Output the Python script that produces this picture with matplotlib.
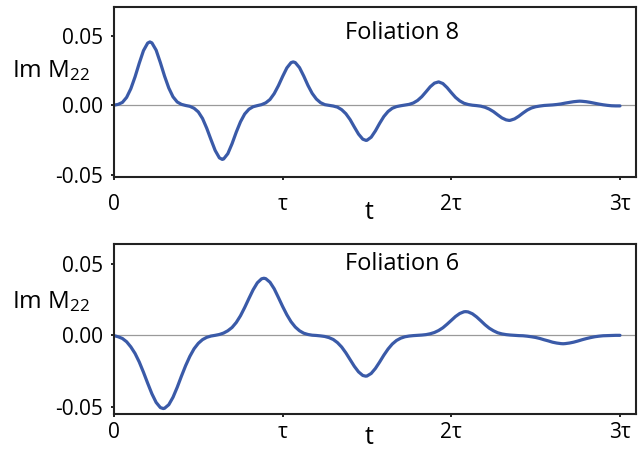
import matplotlib
matplotlib.use("Agg")
import matplotlib.pyplot as plt
import numpy as np

plt.rcParams['font.family'] = ['Open Sans', 'DejaVu Sans']
plt.rcParams['mathtext.fontset'] = 'custom'
plt.rcParams['mathtext.rm'] = 'Open Sans'
plt.rcParams['mathtext.default'] = 'regular'

# time in units of tau, step tau/40
t = np.arange(121) * 0.025

# Foliation 8
im_m22_fol8 = [
    0.0002, 0.0008, 0.0022, 0.0058, 0.0120, 0.0205, 0.0303, 0.0393, 0.0447, 0.0448,
    0.0396, 0.0307, 0.0210, 0.0125, 0.0062, 0.0025, 0.0008, 0.0000, -0.0006, -0.0020,
    -0.0046, -0.0093, -0.0163, -0.0244, -0.0322, -0.0375, -0.0383, -0.0345, -0.0274, -0.0191,
    -0.0117, -0.0061, -0.0027, -0.0009, -0.0001, 0.0006, 0.0019, 0.0043, 0.0085, 0.0142,
    0.0208, 0.0269, 0.0307, 0.0307, 0.0271, 0.0211, 0.0144, 0.0087, 0.0046, 0.0020,
    0.0006, 0.0001, -0.0004, -0.0012, -0.0030, -0.0059, -0.0101, -0.0154, -0.0205, -0.0241,
    -0.0249, -0.0227, -0.0182, -0.0128, -0.0079, -0.0043, -0.0020, -0.0008, -0.0002, 0.0003,
    0.0008, 0.0018, 0.0036, 0.0063, 0.0098, 0.0134, 0.0160, 0.0169, 0.0157, 0.0128,
    0.0092, 0.0058, 0.0033, 0.0016, 0.0007, 0.0002, -0.0001, -0.0005, -0.0013, -0.0026,
    -0.0044, -0.0067, -0.0089, -0.0103, -0.0106, -0.0096, -0.0077, -0.0054, -0.0033, -0.0018,
    -0.0009, -0.0004, 0.0000, 0.0002, 0.0004, 0.0007, 0.0011, 0.0017, 0.0022, 0.0027,
    0.0030, 0.0030, 0.0027, 0.0022, 0.0016, 0.0010, 0.0005, 0.0001, -0.0002, -0.0003,
    -0.0003,
]
peak_t_fol8 = [0.213, 0.642, 1.063, 1.494, 2.343, 2.762]
peak_v_fol8 = [0.0455, -0.0386, 0.0312, -0.0250, -0.0107, 0.0031]

# Foliation 6
im_m22_fol6 = [
    -0.0002, -0.0010, -0.0022, -0.0045, -0.0081, -0.0127, -0.0187, -0.0259, -0.0336, -0.0410,
    -0.0470, -0.0506, -0.0511, -0.0486, -0.0434, -0.0364, -0.0286, -0.0212, -0.0147, -0.0094,
    -0.0056, -0.0030, -0.0014, -0.0005, 0.0000, 0.0006, 0.0016, 0.0032, 0.0055, 0.0090,
    0.0137, 0.0195, 0.0258, 0.0319, 0.0368, 0.0396, 0.0397, 0.0372, 0.0326, 0.0265,
    0.0202, 0.0144, 0.0095, 0.0058, 0.0032, 0.0015, 0.0006, 0.0001, -0.0001, -0.0004,
    -0.0008, -0.0016, -0.0029, -0.0051, -0.0082, -0.0123, -0.0170, -0.0217, -0.0256, -0.0281,
    -0.0285, -0.0267, -0.0232, -0.0187, -0.0139, -0.0096, -0.0061, -0.0036, -0.0020, -0.0010,
    -0.0005, -0.0002, 0.0000, 0.0002, 0.0005, 0.0011, 0.0020, 0.0034, 0.0053, 0.0078,
    0.0105, 0.0132, 0.0153, 0.0165, 0.0164, 0.0151, 0.0129, 0.0102, 0.0074, 0.0050,
    0.0032, 0.0018, 0.0010, 0.0005, 0.0002, 0.0000, -0.0002, -0.0003, -0.0006, -0.0010,
    -0.0015, -0.0022, -0.0031, -0.0039, -0.0048, -0.0054, -0.0058, -0.0058, -0.0054, -0.0048,
    -0.0040, -0.0031, -0.0023, -0.0016, -0.0010, -0.0006, -0.0003, -0.0002, -0.0001, 0.0000,
    0.0000,
]
peak_t_fol6 = [0.292, 0.889, 1.492, 2.086, 2.663]
peak_v_fol6 = [-0.0513, 0.0400, -0.0286, 0.0166, -0.0059]

xticks = [0, 1, 2, 3]
xticklabels = ['0', 'τ', '2τ', '3τ']
yticks = [-0.05, 0.0, 0.05]
yticklabels = ['-0.05', '0.00', '0.05']

line_color = '#3a5aa8'


def merged(grid_v, pk_t, pk_v):
    tt = np.concatenate([t, pk_t])
    vv = np.concatenate([grid_v, pk_v])
    order = np.argsort(tt)
    return tt[order], vv[order]


fig = plt.figure(figsize=(6.41, 4.49), dpi=100)
ax1 = fig.add_axes([0.1778, 0.6058, 0.8144, 0.3786])
ax2 = fig.add_axes([0.1778, 0.0780, 0.8144, 0.3786])

panels = [
    (ax1, merged(im_m22_fol8, peak_t_fol8, peak_v_fol8), 'Foliation 8',
     (-0.0512, 0.0705), 9.5, 0.810, 0.589, -0.249),
    (ax2, merged(im_m22_fol6, peak_t_fol6, peak_v_fol6), 'Foliation 6',
     (-0.0551, 0.0640), 3.6, 0.847, 0.622, -0.175),
]

for ax, (tt, y), title, ylim, xpad, title_y, ylab_y, t_y in panels:
    ax.axhline(0, color='#9a9a9a', lw=0.9, zorder=1)
    ax.plot(tt, y, color=line_color, lw=2.3, solid_capstyle='round',
            solid_joinstyle='round', zorder=2)
    ax.set_xlim(0, 3.095)
    ax.set_ylim(*ylim)
    ax.set_xticks(xticks)
    ax.set_xticklabels(xticklabels)
    ax.set_yticks(yticks)
    ax.set_yticklabels(yticklabels)
    ax.tick_params(axis='x', direction='out', length=2.5, width=1.2, pad=xpad, labelsize=15)
    ax.tick_params(axis='y', direction='out', length=2.5, width=1.2, pad=5.5, labelsize=15)
    for s in ax.spines.values():
        s.set_linewidth(1.5)
        s.set_color('#222222')
    ax.text(0.552, title_y, title, transform=ax.transAxes, ha='center',
            va='baseline', fontsize=17)
    ax.text(-0.195, ylab_y, 'Im M$_{22}$', transform=ax.transAxes, ha='left',
            va='baseline', fontsize=17.5)
    ax.text(0.489, t_y, 't', transform=ax.transAxes, ha='center',
            va='baseline', fontsize=18)

fig.savefig('out.png', dpi=100)
